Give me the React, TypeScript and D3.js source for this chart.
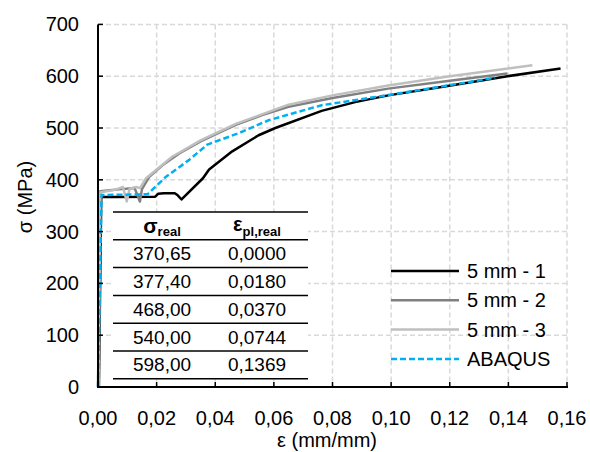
import React from 'react';
import * as d3 from 'd3';

// curve points [strain, stress]
const spec1: [number, number][] = [
  [0.0003, 0], [0.0011, 367], [0.005, 367], [0.0195, 367.5], [0.0205, 373], [0.0225, 374],
  [0.0262, 374], [0.0272, 370], [0.0285, 362], [0.0358, 403], [0.0379, 420], [0.0458, 455],
  [0.0548, 486], [0.0605, 500], [0.0763, 533], [0.0877, 550], [0.099, 563], [0.1182, 580],
  [0.1397, 600], [0.1578, 615],
];
const spec2: [number, number][] = [
  [0, 0], [0.0008, 378], [0.004, 380], [0.008, 382], [0.0125, 384], [0.0143, 358],
  [0.015, 382], [0.0175, 406], [0.022, 428], [0.0277, 451], [0.035, 474], [0.047, 506],
  [0.056, 525], [0.065, 541], [0.08, 558], [0.099, 576], [0.12, 591], [0.1397, 605],
];
const spec3: [number, number][] = [
  [0.0002, 0], [0.0008, 376], [0.003, 378], [0.006, 381], [0.0085, 386], [0.0098, 358],
  [0.0108, 383], [0.013, 386], [0.0143, 384], [0.0164, 403], [0.0254, 445], [0.035, 476],
  [0.047, 508], [0.065, 545], [0.08, 563], [0.099, 582], [0.12, 600], [0.1482, 621],
];
const abaqus: [number, number][] = [
  [0, 0], [0.0012, 370.65], [0.0169, 372], [0.0232, 406], [0.031, 438], [0.0373, 468],
  [0.048, 490], [0.0582, 515], [0.0763, 544], [0.099, 563.5], [0.1355, 597],
];

const seriesNames = ['5 mm - 1', '5 mm - 2', '5 mm - 3', 'ABAQUS'];
const seriesColors = ['#000000', '#808080', '#bfbfbf', '#00b0f0'];

// table
const sigmaReal = [370.65, 377.4, 468.0, 540.0, 598.0];
const epsPlReal = [0.0, 0.018, 0.037, 0.0744, 0.1369];

const xTicks = [0, 0.02, 0.04, 0.06, 0.08, 0.1, 0.12, 0.14, 0.16];
const yTicks = [0, 100, 200, 300, 400, 500, 600, 700];

const loc = d3.formatLocale({ decimal: ',', thousands: '.', grouping: [3], currency: ['', ''] });

export default function App() {
  const W = 590, H = 452;
  const x = d3.scaleLinear([0, 0.16], [98, 567]);
  const y = d3.scaleLinear([0, 700], [387, 24.4]);
  const line = d3.line<[number, number]>().x(d => x(d[0])).y(d => y(d[1]));
  const data = [spec1, spec2, spec3, abaqus];
  const font = "'Liberation Sans', Arial, sans-serif";

  const tL = 113, tR = 308, tTop = 212, rowH = 27.8;
  const c1 = 162, c2 = 257;

  return (
    <svg width={W} height={H} style={{ position: 'absolute', left: 0, top: 0, background: '#fff' }} fontFamily={font}>
      {/* grid */}
      {xTicks.slice(1).map(t => (
        <line key={'gx' + t} x1={x(t)} x2={x(t)} y1={y(700)} y2={y(0)} stroke="#d9d9d9" strokeWidth={1.5} strokeDasharray="5,3" />
      ))}
      {yTicks.slice(1).map(t => (
        <line key={'gy' + t} x1={x(0)} x2={x(0.16)} y1={y(t)} y2={y(t)} stroke="#d9d9d9" strokeWidth={1.5} strokeDasharray="5,3" />
      ))}

      {/* series */}
      {data.map((d, i) => (
        <path key={i} d={line(d) || ''} fill="none" stroke={seriesColors[i]} strokeWidth={2.5}
          strokeDasharray={i === 3 ? '6,3' : undefined} strokeLinejoin="round" />
      ))}

      {/* axes */}
      <line x1={x(0)} x2={x(0)} y1={y(700)} y2={y(0)} stroke="#000" strokeWidth={2} />
      <line x1={x(0) - 1} x2={x(0.16) + 1} y1={y(0)} y2={y(0)} stroke="#000" strokeWidth={2} />
      {xTicks.map(t => (
        <g key={'xt' + t}>
          <line x1={x(t)} x2={x(t)} y1={y(0)} y2={y(0) - 5} stroke="#000" strokeWidth={1.5} />
          <text x={x(t)} y={418} textAnchor="middle" dominantBaseline="central" fontSize={20} fill="#000">
            {loc.format('.2f')(t)}
          </text>
        </g>
      ))}
      {yTicks.map(t => (
        <g key={'yt' + t}>
          <line x1={x(0)} x2={x(0) + 5} y1={y(t)} y2={y(t)} stroke="#000" strokeWidth={1.5} />
          <text x={79} y={y(t)} textAnchor="end" dominantBaseline="central" fontSize={20} fill="#000">{t}</text>
        </g>
      ))}
      <text x={327} y={440} textAnchor="middle" dominantBaseline="central" fontSize={20} fill="#000">ε (mm/mm)</text>
      <text transform="translate(25,197) rotate(-90)" textAnchor="middle" dominantBaseline="central" fontSize={20} fill="#000">σ (MPa)</text>

      {/* table */}
      <rect x={tL} y={tTop} width={tR - tL} height={rowH * 6} fill="#fff" />
      {d3.range(7).map(i => (
        <line key={'tl' + i} x1={tL} x2={tR} y1={tTop + i * rowH} y2={tTop + i * rowH} stroke="#000" strokeWidth={1.5} />
      ))}
      <text x={c1} y={tTop + rowH / 2 + 7} textAnchor="middle" fontSize={21} fontWeight="bold" fill="#000">
        σ<tspan fontSize={13} dy={3}>real</tspan>
      </text>
      <text x={c2} y={tTop + rowH / 2 + 5} textAnchor="middle" fontSize={20} fontWeight="bold" fill="#000">
        ε<tspan fontSize={13} dy={5}>pl,real</tspan>
      </text>
      {sigmaReal.map((s, i) => (
        <g key={'row' + i}>
          <text x={c1} y={tTop + (i + 1.5) * rowH} textAnchor="middle" dominantBaseline="central" fontSize={19} fill="#000">
            {loc.format('.2f')(s)}
          </text>
          <text x={c2} y={tTop + (i + 1.5) * rowH} textAnchor="middle" dominantBaseline="central" fontSize={19} fill="#000">
            {loc.format('.4f')(epsPlReal[i])}
          </text>
        </g>
      ))}

      {/* legend */}
      {seriesNames.map((n, i) => {
        const ly = 271 + i * 29.3;
        return (
          <g key={'lg' + i}>
            <line x1={391} x2={459} y1={ly} y2={ly} stroke={seriesColors[i]} strokeWidth={2.5}
              strokeDasharray={i === 3 ? '6,3' : undefined} />
            <text x={467} y={ly} dominantBaseline="central" fontSize={20} fill="#000">{n}</text>
          </g>
        );
      })}
    </svg>
  );
}
